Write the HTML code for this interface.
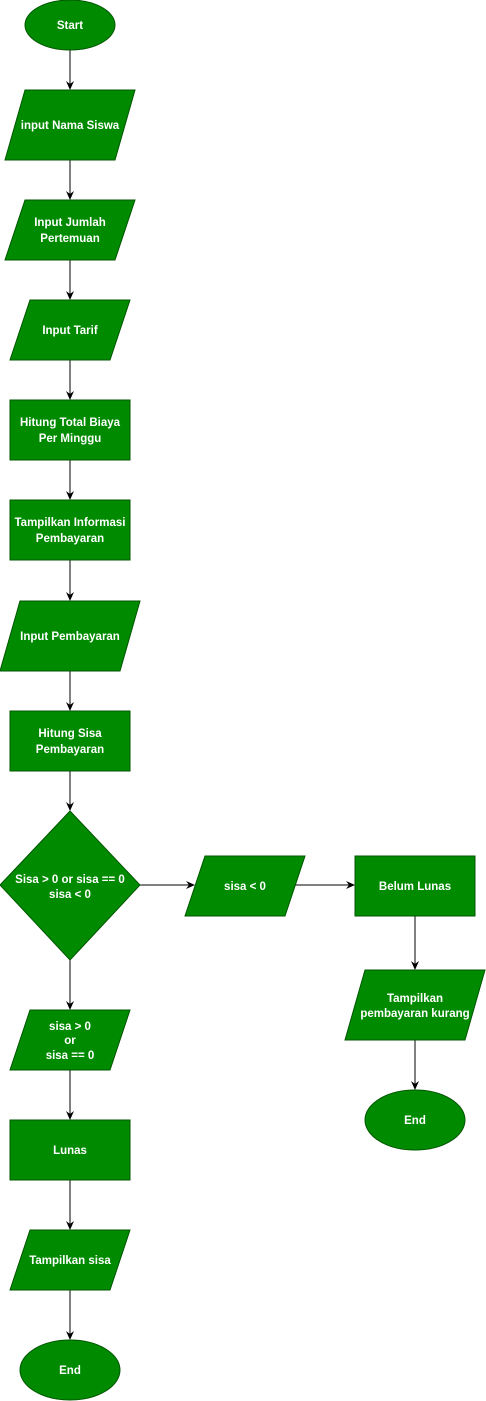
<!DOCTYPE html>
<html><head><meta charset="utf-8"><style>body{margin:0;background:#fff}svg{display:block}text{font-family:"Liberation Sans",Arial,sans-serif;font-size:11.5px;fill:#fff;text-anchor:middle;font-weight:bold}</style></head><body>
<svg width="486" height="1401" viewBox="0 0 486 1401">
<defs><marker id="a" markerWidth="10" markerHeight="10" refX="8" refY="5" orient="auto" markerUnits="userSpaceOnUse"><path d="M0,1 L9,5 L0,9 L3,5 Z" fill="#000"/></marker></defs>
<g stroke="#000" stroke-width="1" fill="none" marker-end="url(#a)">
<line x1="70" y1="50" x2="70" y2="89"/>
<line x1="70" y1="160" x2="70" y2="199"/>
<line x1="70" y1="260" x2="70" y2="299"/>
<line x1="70" y1="360" x2="70" y2="399"/>
<line x1="70" y1="460" x2="70" y2="499"/>
<line x1="70" y1="560" x2="70" y2="600"/>
<line x1="70" y1="671" x2="70" y2="710"/>
<line x1="70" y1="771" x2="70" y2="810"/>
<line x1="70" y1="960" x2="70" y2="1009"/>
<line x1="70" y1="1070" x2="70" y2="1119"/>
<line x1="70" y1="1180" x2="70" y2="1229"/>
<line x1="70" y1="1290" x2="70" y2="1339"/>
<line x1="140" y1="885" x2="194" y2="885"/>
<line x1="295" y1="885" x2="354" y2="885"/>
<line x1="415" y1="916" x2="415" y2="969"/>
<line x1="415" y1="1040" x2="415" y2="1089"/>
</g>
<g fill="#008a00" stroke="#005700" stroke-width="1">
<ellipse cx="70" cy="25" rx="45" ry="25"/>
<polygon points="25,90 135,90 115,160 5,160"/>
<polygon points="25,200 135,200 115,260 5,260"/>
<polygon points="30,300 130,300 110,360 10,360"/>
<rect x="10" y="400" width="120" height="60"/>
<rect x="10" y="500" width="120" height="60"/>
<polygon points="20,601 140,601 120,671 0,671"/>
<rect x="10" y="711" width="120" height="60"/>
<polygon points="70,811 140,885 70,960 0,885"/>
<polygon points="205,856 305,856 285,916 185,916"/>
<rect x="355" y="856" width="120" height="60"/>
<polygon points="365,970 485,970 465,1040 345,1040"/>
<ellipse cx="415" cy="1120" rx="50" ry="30"/>
<polygon points="30,1010 130,1010 110,1070 10,1070"/>
<rect x="10" y="1120" width="120" height="60"/>
<polygon points="30,1230 130,1230 110,1290 10,1290"/>
<ellipse cx="70" cy="1370" rx="50" ry="30"/>
</g>
<text x="70" y="29">Start</text>
<text x="70" y="129">input Nama Siswa</text>
<text x="70" y="226">Input Jumlah</text>
<text x="70" y="242">Pertemuan</text>
<text x="70" y="334">Input Tarif</text>
<text x="70" y="426">Hitung Total Biaya</text>
<text x="70" y="442">Per Minggu</text>
<text x="70" y="526">Tampilkan Informasi</text>
<text x="70" y="542">Pembayaran</text>
<text x="70" y="640">Input Pembayaran</text>
<text x="70" y="737">Hitung Sisa</text>
<text x="70" y="753">Pembayaran</text>
<text x="70" y="883">Sisa &gt; 0 or sisa == 0</text>
<text x="70" y="898">sisa &lt; 0</text>
<text x="245" y="890">sisa &lt; 0</text>
<text x="415" y="890">Belum Lunas</text>
<text x="415" y="1002">Tampilkan</text>
<text x="415" y="1017">pembayaran kurang</text>
<text x="415" y="1124">End</text>
<text x="70" y="1030">sisa &gt; 0</text>
<text x="70" y="1044">or</text>
<text x="70" y="1059">sisa == 0</text>
<text x="70" y="1154">Lunas</text>
<text x="70" y="1264">Tampilkan sisa</text>
<text x="70" y="1374">End</text>
</svg>
</body></html>
